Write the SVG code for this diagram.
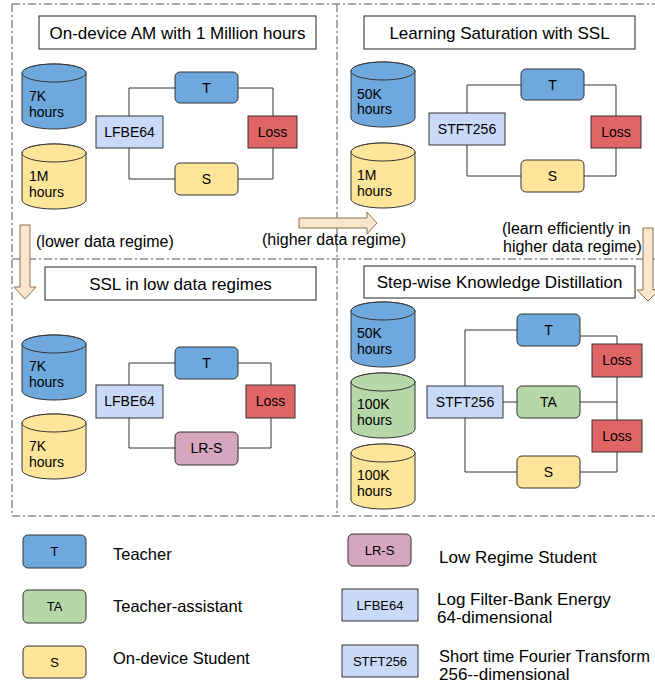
<svg xmlns="http://www.w3.org/2000/svg" xmlns:xlink="http://www.w3.org/1999/xlink" width="655" height="688" viewBox="0 0 655 688">
<style>
text{font-family:"Liberation Sans",Arial,sans-serif;fill:#000}
.frame{fill:none;stroke:#555;stroke-width:1;stroke-dasharray:8 3 2 3}
.title{fill:#fff;stroke:#222;stroke-width:1}
.tt{font-size:17px;text-anchor:middle}
.box{stroke:#333;stroke-width:1}
.lbl{font-size:14px;text-anchor:middle}
.cl{font-size:14px}
.blue{fill:#6fa8dc}
.yellow{fill:#ffe599}
.green{fill:#b6d7a8}
.pink{fill:#d5a6bd}
.light{fill:#c9daf8}
.red{fill:#e06666}
.conn{fill:none;stroke:#333;stroke-width:1}
.arrow{fill:#fce5cd;stroke:#8a7250;stroke-width:1}
.note{font-size:16px}
.leg{font-size:16.5px}
.legr{font-size:17px}
.legl{font-size:13px;text-anchor:middle}
</style>
<defs>
<g id="cyl" stroke="#333" stroke-width="1">
<path d="M0,9 V56 A32,9 0 0 0 64,56 V9 A32,9 0 0 0 0,9 Z"/>
<ellipse cx="32" cy="9" rx="32" ry="9"/>
</g>
</defs>

<g id="frames">
<line class="frame" x1="12" y1="4" x2="655" y2="4"/>
<line class="frame" x1="12" y1="4" x2="12" y2="516"/>
<line class="frame" x1="12" y1="516" x2="655" y2="516"/>
<line class="frame" x1="337" y1="4" x2="337" y2="516"/>
<line class="frame" x1="12" y1="259" x2="655" y2="259"/>
</g>

<g id="connectors">
<path class="conn" d="M129,116 V88 H175 M238,88 H273 V116 M273,148 V179 H238 M175,179 H129 V148"/>
<path class="conn" d="M467,113 V85 H521 M584,85 H616 V116 M616,148 V176 H584 M521,176 H467 V145"/>
<path class="conn" d="M129,385 V363 H175 M238,363 H271 V385 M271,418 V448 H238 M175,448 H129 V418"/>
<path class="conn" d="M465,386 V330 H517 M503,402 H517 M465,418 V472 H517 M580,336 H617 V344 M617,377 V420 M580,402 H617 M617,452 V472 H580"/>
</g>

<g id="arrows">
<polygon class="arrow" points="20,225 30,225 30,287 36,287 25,299 14,287 20,287"/>
<polygon class="arrow" points="299,218 367,218 367,212 377,223 367,234 367,228 299,228"/>
<polygon class="arrow" points="643,228 653,228 653,290 659,290 648,301 637,290 643,290"/>
<text class="note" x="36" y="247">(lower data regime)</text>
<text class="note" x="262" y="245">(higher data regime)</text>
<text class="note" x="502" y="234">(learn efficiently in</text>
<text class="note" x="503" y="252">higher data regime)</text>
</g>

<!-- Panel 1 -->
<g id="p1-title"><rect class="title" x="39" y="16" width="277" height="33"/><text class="tt" x="177.5" y="38.5">On-device AM with 1 Million hours</text></g>
<g id="p1-data7k"><use xlink:href="#cyl" x="22" y="64" class="blue"/><text class="cl" x="29" y="101">7K</text><text class="cl" x="29" y="117">hours</text></g>
<g id="p1-data1m"><use xlink:href="#cyl" x="22" y="144" class="yellow"/><text class="cl" x="29" y="181">1M</text><text class="cl" x="29" y="197">hours</text></g>
<g id="p1-T"><rect class="box blue" x="175" y="72" width="63" height="31" rx="5"/><text class="lbl" x="206.5" y="93">T</text></g>
<g id="p1-LFBE64"><rect class="box light" x="96" y="116" width="67" height="32"/><text class="lbl" x="129.5" y="137">LFBE64</text></g>
<g id="p1-Loss"><rect class="box red" x="248" y="116" width="49" height="32"/><text class="lbl" x="272.5" y="137">Loss</text></g>
<g id="p1-S"><rect class="box yellow" x="175" y="163" width="63" height="32" rx="5"/><text class="lbl" x="206.5" y="184">S</text></g>

<!-- Panel 2 -->
<g id="p2-title"><rect class="title" x="364" y="16" width="271" height="33"/><text class="tt" x="499.5" y="38.5">Learning Saturation with SSL</text></g>
<g id="p2-data50k"><use xlink:href="#cyl" x="351" y="62" class="blue"/><text class="cl" x="357" y="99">50K</text><text class="cl" x="357" y="114">hours</text></g>
<g id="p2-data1m"><use xlink:href="#cyl" x="351" y="143" class="yellow"/><text class="cl" x="357" y="180">1M</text><text class="cl" x="357" y="196">hours</text></g>
<g id="p2-T"><rect class="box blue" x="521" y="69" width="63" height="31" rx="5"/><text class="lbl" x="552.5" y="90">T</text></g>
<g id="p2-STFT256"><rect class="box light" x="429" y="113" width="76" height="32"/><text class="lbl" x="467" y="134">STFT256</text></g>
<g id="p2-Loss"><rect class="box red" x="591" y="116" width="50" height="32"/><text class="lbl" x="616" y="137">Loss</text></g>
<g id="p2-S"><rect class="box yellow" x="521" y="160" width="63" height="32" rx="5"/><text class="lbl" x="552.5" y="181">S</text></g>

<!-- Panel 3 -->
<g id="p3-title"><rect class="title" x="45" y="267" width="271" height="33"/><text class="tt" x="180.5" y="289.5">SSL in low data regimes</text></g>
<g id="p3-data7k-a"><use xlink:href="#cyl" x="22" y="335" class="blue"/><text class="cl" x="29" y="371">7K</text><text class="cl" x="29" y="387">hours</text></g>
<g id="p3-data7k-b"><use xlink:href="#cyl" x="22" y="414" class="yellow"/><text class="cl" x="29" y="451">7K</text><text class="cl" x="29" y="467">hours</text></g>
<g id="p3-T"><rect class="box blue" x="175" y="347" width="63" height="32" rx="5"/><text class="lbl" x="206.5" y="368">T</text></g>
<g id="p3-LFBE64"><rect class="box light" x="96" y="385" width="67" height="33"/><text class="lbl" x="129.5" y="406">LFBE64</text></g>
<g id="p3-Loss"><rect class="box red" x="246" y="385" width="49" height="33"/><text class="lbl" x="270.5" y="406">Loss</text></g>
<g id="p3-LRS"><rect class="box pink" x="175" y="432" width="63" height="33" rx="5"/><text class="lbl" x="206.5" y="453">LR-S</text></g>

<!-- Panel 4 -->
<g id="p4-title"><rect class="title" x="364" y="266" width="271" height="32"/><text class="tt" x="499.5" y="288">Step-wise Knowledge Distillation</text></g>
<g id="p4-data50k"><use xlink:href="#cyl" x="351" y="302" class="blue"/><text class="cl" x="357" y="338">50K</text><text class="cl" x="357" y="354">hours</text></g>
<g id="p4-data100k-a"><use xlink:href="#cyl" x="351" y="373" class="green"/><text class="cl" x="357" y="409">100K</text><text class="cl" x="357" y="425">hours</text></g>
<g id="p4-data100k-b"><use xlink:href="#cyl" x="351" y="444" class="yellow"/><text class="cl" x="357" y="480">100K</text><text class="cl" x="357" y="496">hours</text></g>
<g id="p4-T"><rect class="box blue" x="517" y="314" width="63" height="32" rx="5"/><text class="lbl" x="548.5" y="335">T</text></g>
<g id="p4-STFT256"><rect class="box light" x="427" y="386" width="76" height="32"/><text class="lbl" x="465" y="407">STFT256</text></g>
<g id="p4-TA"><rect class="box green" x="517" y="386" width="63" height="32" rx="5"/><text class="lbl" x="548.5" y="407">TA</text></g>
<g id="p4-S"><rect class="box yellow" x="517" y="456" width="63" height="32" rx="5"/><text class="lbl" x="548.5" y="477">S</text></g>
<g id="p4-Loss1"><rect class="box red" x="592" y="344" width="50" height="33"/><text class="lbl" x="617" y="365">Loss</text></g>
<g id="p4-Loss2"><rect class="box red" x="592" y="420" width="50" height="32"/><text class="lbl" x="617" y="441">Loss</text></g>

<!-- Legend -->
<g id="legend-T"><rect class="box blue" x="23" y="535" width="63" height="33" rx="5"/><text class="legl" x="54.5" y="556">T</text><text class="leg" x="113" y="560">Teacher</text></g>
<g id="legend-TA"><rect class="box green" x="23" y="590" width="63" height="33" rx="5"/><text class="legl" x="54.5" y="611">TA</text><text class="leg" x="113" y="612">Teacher-assistant</text></g>
<g id="legend-S"><rect class="box yellow" x="23" y="646" width="63" height="32" rx="5"/><text class="legl" x="54.5" y="667">S</text><text class="leg" x="113" y="664">On-device Student</text></g>
<g id="legend-LRS"><rect class="box pink" x="348" y="534" width="63" height="32" rx="5"/><text class="legl" x="379.5" y="555">LR-S</text><text class="legr" x="439" y="563">Low Regime Student</text></g>
<g id="legend-LFBE64"><rect class="box light" x="342" y="589" width="76" height="32"/><text class="legl" x="380" y="610">LFBE64</text><text class="legr" x="437" y="605">Log Filter-Bank Energy</text><text class="legr" x="437" y="623">64-dimensional</text></g>
<g id="legend-STFT256"><rect class="box light" x="342" y="645" width="76" height="32"/><text class="legl" x="380" y="666">STFT256</text><text class="leg" x="439" y="662">Short time Fourier Transform</text><text class="legr" x="439" y="680">256--dimensional</text></g>
</svg>
